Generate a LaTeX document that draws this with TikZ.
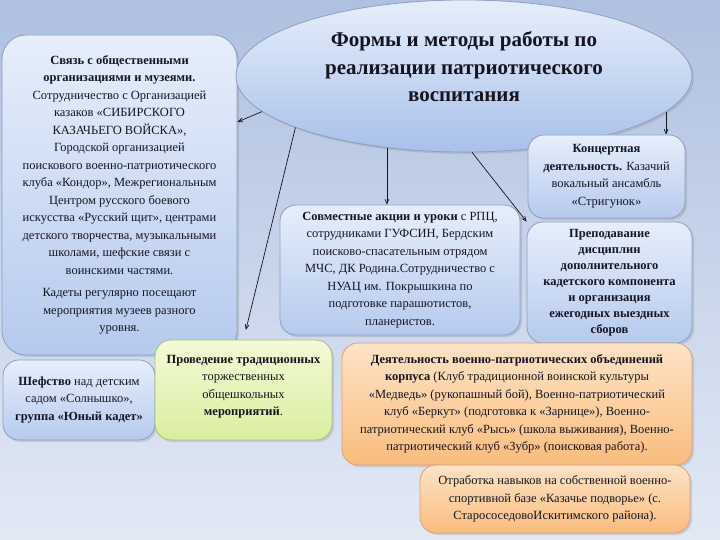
\documentclass[tikz,border=0pt]{standalone}
\usepackage{fontspec}
\setmainfont{Liberation Serif}
\usetikzlibrary{shapes,arrows,positioning,shadows}
\definecolor{bgtop}{HTML}{AFC0E0}
\definecolor{bgbot}{HTML}{E2E9F5}
\definecolor{bluetop}{HTML}{E6EEFB}
\definecolor{bluebot}{HTML}{B6CAEE}
\definecolor{goalbot}{HTML}{A9C0EA}
\definecolor{blueline}{HTML}{8C9FC2}
\definecolor{greentop}{HTML}{F4FAD8}
\definecolor{greenbot}{HTML}{D9EE9E}
\definecolor{greenline}{HTML}{A9BE86}
\definecolor{orangetop}{HTML}{FDE3C6}
\definecolor{orangebot}{HTML}{F9BC7E}
\definecolor{orangeline}{HTML}{DDA172}
\definecolor{inkc}{HTML}{151520}

\begin{document}
\begin{tikzpicture}[
    x=1pt, y=-1pt,
    box/.style={rectangle, rounded corners=16pt, draw=blueline, line width=0.8pt, align=center, text=inkc,
        font=\fontsize{12.5}{17.5}\selectfont, top color=bluetop, bottom color=bluebot, inner sep=2pt,
        drop shadow={opacity=0.25, shadow xshift=2pt, shadow yshift=-2pt}},
    greenbox/.style={box, draw=greenline, top color=greentop, bottom color=greenbot},
    orangebox/.style={box, draw=orangeline, top color=orangetop, bottom color=orangebot},
    goalbox/.style={ellipse, draw=blueline, line width=0.8pt, align=center, text=inkc, inner sep=0pt,
        font=\bfseries\fontsize{21}{27.5}\selectfont, top color=bluetop, bottom color=goalbot,
        drop shadow={opacity=0.25, shadow xshift=2pt, shadow yshift=-2pt}},
    arrow/.style={->, >=angle 45, line width=0.7pt, draw=inkc}
]
    \useasboundingbox (0,0) rectangle (720,540);
    \fill[top color=bgtop, bottom color=bgbot] (0,0) rectangle (720,540);

    \node[box, rounded corners=24pt, minimum width=235pt, minimum height=320pt] (links) at (119.5,195) {%
        \textbf{Связь с общественными}\\
        \textbf{организациями и музеями.}\\
        Сотрудничество с Организацией\\
        казаков «СИБИРСКОГО\\
        КАЗАЧЬЕГО ВОЙСКА»,\\
        Городской организацией\\
        поискового военно-патриотического\\
        клуба «Кондор», Межрегиональным\\
        Центром русского боевого\\
        искусства «Русский щит», центрами\\
        детского творчества, музыкальными\\
        школами, шефские связи с\\
        воинскими частями.\\[5pt]
        Кадеты регулярно посещают\\
        мероприятия музеев разного\\
        уровня.};
    \node[goalbox, minimum width=456pt, minimum height=152pt] (goal) at (464,76) {%
        \raisebox{7pt}[\height][\depth]{\begin{tabular}{@{}c@{}}
        Формы и методы работы по\\
        реализации патриотического\\
        воспитания\end{tabular}}};
    \node[box, minimum width=157pt, minimum height=83pt] (konc) at (606.5,176.5) {%
        \textbf{Концертная}\\
        \textbf{деятельность.} Казачий\\
        вокальный ансамбль\\
        «Стригунок»};
    \node[box, minimum width=165pt, minimum height=121pt, font=\bfseries\fontsize{12.5}{16}\selectfont] (prep) at (609.5,282.5) {%
        Преподавание\\
        дисциплин\\
        дополнительного\\
        кадетского компонента\\
        и организация\\
        ежегодных выездных\\
        сборов};
    \node[box, minimum width=240pt, minimum height=130pt] (sovm) at (400,270) {%
        \textbf{Совместные акции и уроки} с РПЦ,\\
        сотрудниками ГУФСИН, Бердским\\
        поисково-спасательным отрядом\\
        МЧС, ДК Родина.Сотрудничество с\\
        НУАЦ им. Покрышкина по\\
        подготовке парашютистов,\\
        планеристов.};
    \node[box, minimum width=152pt, minimum height=80pt] (shef) at (79,400) {%
        \textbf{Шефство} над детским\\
        садом «Солнышко»,\\
        \textbf{группа «Юный кадет»}};
    \node[greenbox, minimum width=177pt, minimum height=100pt] (prov) at (243.5,390) {%
        \raisebox{4pt}[\height][\depth]{\begin{tabular}{@{}c@{}}
        \textbf{Проведение традиционных}\\
        торжественных\\
        общешкольных\\
        \textbf{мероприятий}.\end{tabular}}};
    \node[orangebox, minimum width=350pt, minimum height=122pt] (deyat) at (517,404) {%
        \textbf{Деятельность военно-патриотических объединений}\\
        \textbf{корпуса} (Клуб традиционной воинской культуры\\
        «Медведь» (рукопашный бой), Военно-патриотический\\
        клуб «Беркут» (подготовка к «Зарнице»), Военно-\\
        патриотический клуб «Рысь» (школа выживания), Военно-\\
        патриотический клуб «Зубр» (поисковая работа).};
    \node[orangebox, minimum width=270pt, minimum height=68pt] (otrab) at (555,499) {%
        Отработка навыков на собственной военно-\\
        спортивной базе «Казачье подворье» (с.\\
        СтарососедовоИскитимского района).};

    \draw[arrow] (goal.190) -- ([yshift=73pt]links.east);
    \draw[arrow, shorten >=10pt] (goal.197) -- (prov.north);
    \draw[arrow] (goal.223) -- (goal.223 |- sovm.north);
    \draw[arrow] (goal.276) -- (prep.north west);
    \draw[arrow] (goal.350) -- (goal.350 |- konc.north);
\end{tikzpicture}
\end{document}
